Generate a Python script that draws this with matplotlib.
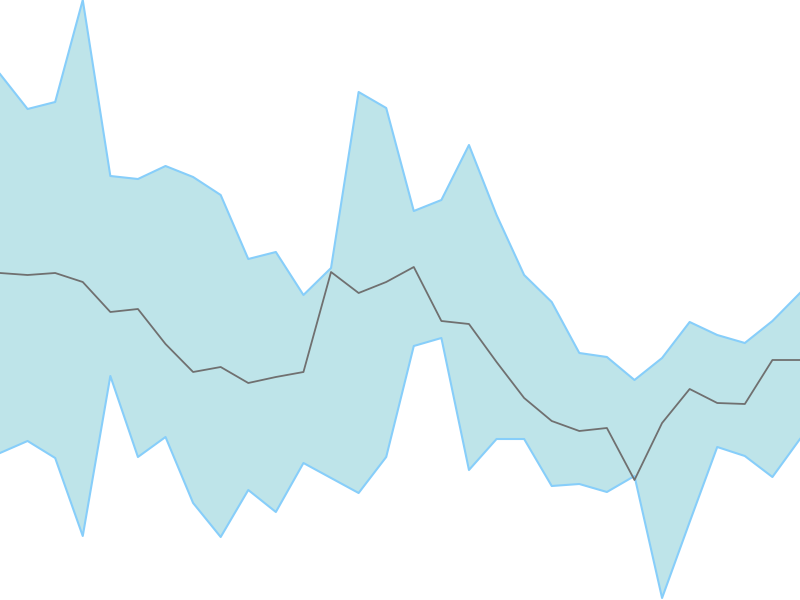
import matplotlib
matplotlib.use("Agg")
import matplotlib.pyplot as plt
import numpy as np

# pixel-height readings (600 - y) for each of the 30 steps
upper = [526, 491, 498, 600, 424, 421, 434, 423, 405, 341, 348, 305, 332, 508, 492,
         389, 400, 455, 385, 325, 298, 247, 243, 220, 242, 278, 265, 257, 279, 307]
middle = [327, 325, 327, 318, 288, 291, 256, 228, 233, 217, 223, 228, 328, 307, 318,
          333, 279, 276, 238, 202, 179, 169, 172, 120, 177, 211, 197, 196, 240, 240]
lower = [147, 159, 142, 64, 224, 143, 163, 97, 63, 110, 88, 137, 122, 107, 143,
         254, 262, 130, 161, 161, 114, 116, 108, 124, 2, 78, 153, 144, 123, 161]

x = np.arange(len(middle))

fig = plt.figure(figsize=(8, 6), dpi=100)
ax = fig.add_axes([0, 0, 1, 1])

ax.fill_between(x, lower, upper, color="#bee4e9", lw=0)
ax.plot(x, upper, color="#87cefa", lw=1.5)
ax.plot(x, lower, color="#87cefa", lw=1.5)
ax.plot(x, middle, color="#707070", lw=1.3)

ax.set_xlim(0, len(x) - 1)
ax.set_ylim(0, 600)
ax.axis("off")

fig.savefig("out.png", dpi=100)
plt.close(fig)
